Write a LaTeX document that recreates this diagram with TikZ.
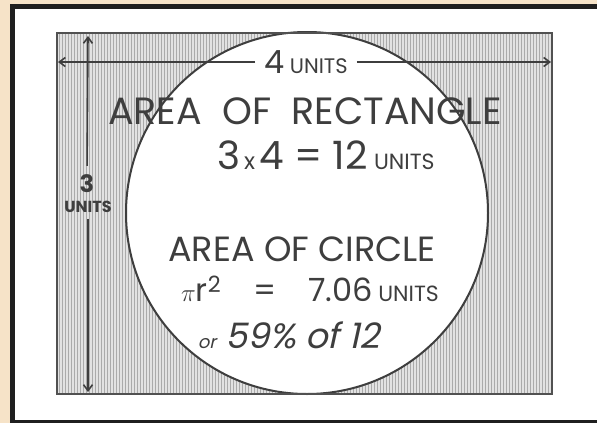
\documentclass[tikz,border=0pt]{standalone}
\usepackage{fontspec}
\setmainfont{Poppins}
\newfontfamily\handslant[FakeSlant=0.22]{Poppins}
\usetikzlibrary{arrows.meta}
\definecolor{paper}{RGB}{246,227,200}
\definecolor{ink}{RGB}{62,62,62}
\definecolor{hatchbg}{RGB}{226,226,226}
\definecolor{hatchline}{RGB}{170,170,170}
\newcommand{\fs}[1]{\fontsize{#1}{#1}\selectfont}

\begin{document}
\begin{tikzpicture}[x=1pt, y=-1pt,
        txt/.style={inner sep=1pt, text=ink, font=\fs{38}},
        dim/.style={-{Straight Barb[length=6pt, width=9pt]}, line width=1.6pt, draw=ink, shorten <=8pt}
    ]
        \fill[paper] (0,0) rectangle (597,423);
        \useasboundingbox (0,0) rectangle (597,423);
        \fill[black!88] (10,4) rectangle (597,423);
        \fill[white] (15,9) rectangle (597,420);

        % hatched 3 x 4 rectangle
        \coordinate (tl) at (57,33);
        \coordinate (br) at (552,394);
        \fill[hatchbg] (tl) rectangle (br);
        \foreach \x in {59,62,...,551}
            \draw[hatchline, line width=0.7pt] (\x,34) -- (\x,393);
        \filldraw[fill=white, draw=ink, line width=2pt] (307,213) circle (181pt);
        \draw[ink!90, line width=2.5pt] (tl) rectangle (br);

        % labels
        \node[txt, font=\fs{32}] (side) at (306,62) {4\,{\fs{21}UNITS}};
        \node[txt, font=\fs{38}] (rectarea) at (305,111) {AREA\ \ OF\ \ RECTANGLE};
        \node[txt, font=\fs{39}] (rectcalc) at (326,155) {3{\fs{23}\,x\,}4 = 12\,{\fs{22}UNITS}};
        \node[txt, font=\fs{35}] (circarea) at (302,249) {AREA OF CIRCLE};
        \node[txt, font=\fs{32}] (circcalc) at (310,289) {\(\pi\)r\textsuperscript{2}\quad=\quad7.06\,{\fs{22}UNITS}};
        \node[txt, font=\handslant\fs{35}] (percent) at (289,335) {{\fs{18}or}\ 59\% of 12};
        \node[txt, font=\fs{24}\bfseries] (three) at (87,184) {3};
        \node[txt, font=\fs{16}\bfseries] (units) at (88,207) {UNITS};

        % dimension arrows
        \coordinate (wl) at (58,62);
        \coordinate (wr) at (551,62);
        \coordinate (ht) at (88,36);
        \coordinate (hb) at (88,392);
        \draw[dim] (side.west) -- (wl);
        \draw[dim] (side.east) -- (wr);
        \draw[dim] (three.north) -- (ht);
        \draw[dim, shorten <=5pt] (units.south) -- (hb);
    \end{tikzpicture}
\end{document}
